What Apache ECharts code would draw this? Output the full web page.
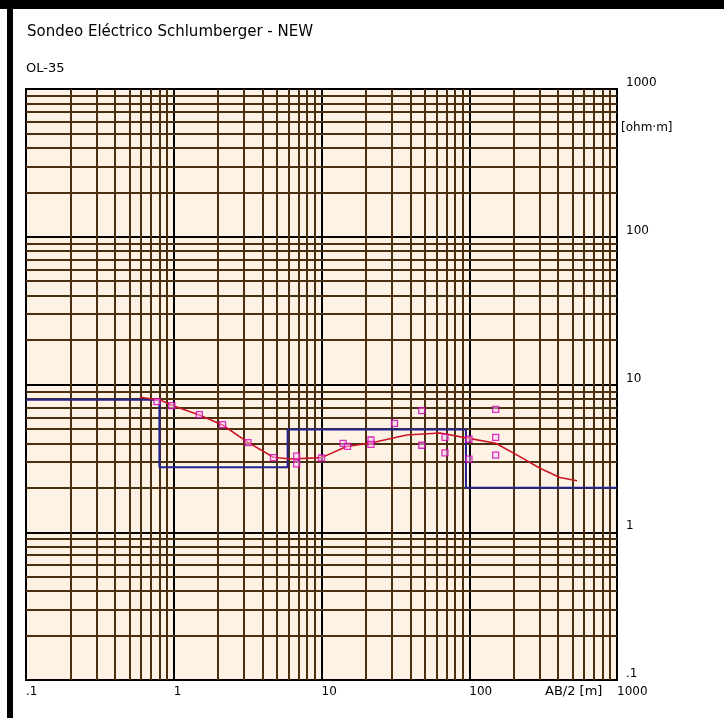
<!DOCTYPE html>
<html>
<head>
<meta charset="utf-8">
<script src="https://cdn.jsdelivr.net/npm/echarts@6/dist/echarts.min.js"></script>
<style>
html,body{margin:0;padding:0;background:#fff;}
#c{width:724px;height:718px;}
</style>
</head>
<body>
<div id="c"></div>
<script>
// Observed apparent resistivity (AB/2 [m], rho [ohm·m])
const obsX = [0.77, 0.97, 1.49, 2.14, 3.18, 4.73, 6.79, 6.79, 10.0, 14.0, 15.0, 21.6, 21.6, 31.2, 47.7, 47.7, 68.5, 68.5, 99.6, 99.6, 151, 151, 151];
const obsY = [7.65, 7.2, 6.25, 5.35, 4.04, 3.20, 3.28, 2.90, 3.18, 4.00, 3.81, 4.21, 3.93, 5.46, 6.65, 3.88, 4.39, 3.44, 4.26, 3.13, 6.79, 4.39, 3.33];

// Calculated curve
const calcX = [0.59, 0.81, 0.97, 1.49, 2.14, 3.18, 4.73, 6.12, 10.0, 14.8, 21.6, 37.7, 63.4, 99.6, 151, 220, 301, 411, 536];
const calcY = [8.2, 7.86, 7.25, 6.22, 5.32, 4.06, 3.22, 3.13, 3.2, 3.81, 4.02, 4.55, 4.7, 4.32, 4.0, 3.25, 2.71, 2.35, 2.23];

// Layered model
const layerRho = [7.9, 2.75, 4.95, 2.0];
const layerDepth = [0.8, 5.9, 95];

// Axis ticks
const xTicks = [0.1, 1, 10, 100, 1000];
const yTicks = [0.1, 1, 10, 100, 1000];
const tickText = {0.1: '.1', 1: '1', 10: '10', 100: '100', 1000: '1000'};

// minor grid values (2..9 in each decade)
const minorVals = [];
for (let d = 0.1; d < 1000; d *= 10) {
  for (let m = 2; m <= 9; m++) minorVals.push(+(d * m).toPrecision(3));
}

const modelPts = [];
let xl = 0.1;
for (let i = 0; i < layerRho.length; i++) {
  const xr = i < layerDepth.length ? layerDepth[i] : 1000;
  modelPts.push([xl, layerRho[i]]);
  modelPts.push([xr, layerRho[i]]);
  xl = xr;
}

const chart = echarts.init(document.getElementById('c'), null, {renderer: 'canvas'});
const FONT = 'DejaVu Sans';
const gridColor = '#4a2f10';

chart.setOption({
  animation: false,
  backgroundColor: '#ffffff',
  graphic: [
    {type: 'rect', shape: {x: 0, y: 0, width: 724, height: 9}, style: {fill: '#000'}, z: 100},
    {type: 'rect', shape: {x: 7, y: 0, width: 6, height: 718}, style: {fill: '#000'}, z: 100},
    {type: 'text', left: 27, top: 25, style: {text: 'Sondeo Eléctrico Schlumberger - NEW', font: '15px "DejaVu Sans"', fill: '#000'}},
    {type: 'text', left: 26, top: 62, style: {text: 'OL-35', font: '13px "DejaVu Sans"', fill: '#000'}},
    {type: 'text', left: 621, top: 122, style: {text: '[ohm·m]', font: '12px "DejaVu Sans"', fill: '#000'}},
    {type: 'text', left: 545, top: 685, style: {text: 'AB/2 [m]', font: '13px "DejaVu Sans"', fill: '#000'}}
  ],
  grid: {
    left: 26, top: 89, width: 591, height: 591,
    show: true, backgroundColor: '#fdf2e3', borderColor: '#000', borderWidth: 2
  },
  xAxis: {
    type: 'log', logBase: 10, min: 0.1, max: 1000,
    axisLine: {show: false}, axisTick: {show: false},
    axisLabel: {
      show: true, align: 'left', margin: 6, color: '#000',
      fontFamily: FONT, fontSize: 12, showMinLabel: true, showMaxLabel: true,
      formatter: v => tickText[+v.toPrecision(3)] || ''
    },
    splitLine: {show: true, lineStyle: {color: '#000', width: 2}}
  },
  yAxis: {
    type: 'log', logBase: 10, min: 0.1, max: 1000, position: 'right',
    axisLine: {show: false}, axisTick: {show: false},
    axisLabel: {
      show: true, margin: 9, color: '#000', verticalAlign: 'bottom',
      fontFamily: FONT, fontSize: 12, showMinLabel: true, showMaxLabel: true,
      formatter: v => tickText[+v.toPrecision(3)] || ''
    },
    splitLine: {show: true, lineStyle: {color: '#000', width: 2}}
  },
  series: [
    {
      type: 'line', data: [], z: 1, silent: true,
      markLine: {
        silent: true, symbol: 'none', animation: false,
        label: {show: false},
        lineStyle: {color: gridColor, width: 2, type: 'solid'},
        data: minorVals.map(v => ({xAxis: v})).concat(minorVals.map(v => ({yAxis: v})))
      }
    },
    {
      type: 'line', data: modelPts, z: 5, symbol: 'none', silent: true,
      lineStyle: {color: '#23238f', width: 2}
    },
    {
      type: 'line', data: calcX.map((x, i) => [x, calcY[i]]), z: 6, symbol: 'none', smooth: false,
      lineStyle: {color: '#cc1424', width: 1.6}
    },
    {
      type: 'scatter', data: obsX.map((x, i) => [x, obsY[i]]), z: 7,
      symbol: 'rect', symbolSize: 6,
      itemStyle: {color: 'rgba(255,210,250,0.6)', borderColor: '#d400b8', borderWidth: 1.3}
    }
  ]
});
</script>
</body>
</html>
